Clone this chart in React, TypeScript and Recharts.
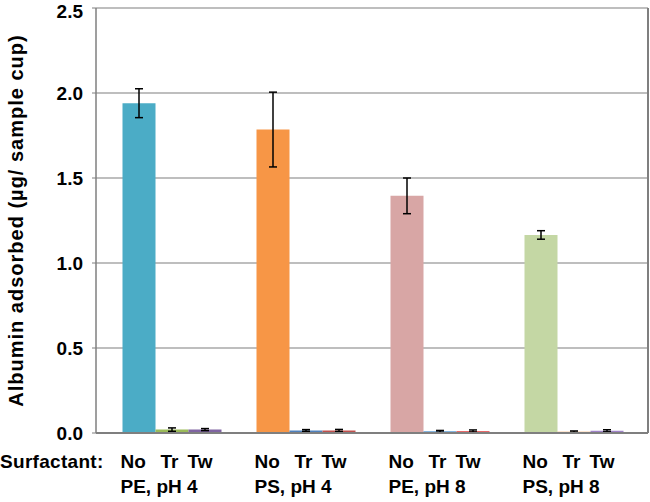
import React from 'react';
import {
  BarChart,
  Bar,
  XAxis,
  YAxis,
  CartesianGrid,
  ErrorBar,
  Cell,
  Label,
} from 'recharts';

const groups = ['PE, pH 4', 'PS, pH 4', 'PE, pH 8', 'PS, pH 8'];
const surfactants = ['No', 'Tr', 'Tw'];

const noValues = [1.94, 1.785, 1.395, 1.165];
const noErrors = [0.085, 0.22, 0.105, 0.025];
const trValues = [0.02, 0.015, 0.01, 0.008];
const trErrors = [0.01, 0.005, 0.005, 0.004];
const twValues = [0.02, 0.015, 0.012, 0.013];
const twErrors = [0.006, 0.006, 0.006, 0.006];

const noColors = ['#4bacc6', '#f79646', '#d8a6a5', '#c4d7a4'];
const trColors = ['#9bbb59', '#4f81bd', '#5b9bd5', '#f79646'];
const twColors = ['#8064a2', '#c0504d', '#e8696a', '#a083c9'];

const yTicks = [0, 0.5, 1.0, 1.5, 2.0, 2.5];

const data = groups.map((g, i) => ({
  group: g,
  No: noValues[i],
  noErr: noErrors[i],
  Tr: trValues[i],
  trErr: trErrors[i],
  Tw: twValues[i],
  twErr: twErrors[i],
}));

const FONT = '"Liberation Sans", Arial, Helvetica, sans-serif';

const GroupTick = (props: any) => {
  const { x, y, payload, index } = props;
  const s = x - 51;
  return (
    <g fontFamily={FONT} fontWeight="bold" fontSize={19} fill="#000">
      {index === 0 && (
        <text x={0} y={y + 35} textAnchor="start" letterSpacing={0.3}>
          Surfactant:
        </text>
      )}
      <text x={s} y={y + 35} textAnchor="start">{surfactants[0]}</text>
      <text x={s + 40} y={y + 35} textAnchor="start">{surfactants[1]}</text>
      <text x={s + 67} y={y + 35} textAnchor="start">{surfactants[2]}</text>
      <text x={s} y={y + 60} textAnchor="start">{payload.value}</text>
    </g>
  );
};

const App: React.FC = () => {
  return (
    <div style={{ position: 'absolute', left: 0, top: 0, width: 650, height: 502 }}>
      <BarChart
        width={650}
        height={502}
        data={data}
        margin={{ top: 8, right: 0, left: 0, bottom: 0 }}
        barGap={0}
        barSize={33}
      >
        <CartesianGrid vertical={false} stroke="#a8a8a8" strokeWidth={1.5} />
        <XAxis
          dataKey="group"
          height={69}
          padding={{ left: 8.5, right: 7.5 }}
          tickLine={false}
          tickSize={0}
          tickMargin={0}
          axisLine={{ stroke: '#7f7f7f', strokeWidth: 2 }}
          tick={<GroupTick />}
          interval={0}
        />
        <XAxis xAxisId="top" orientation="top" dataKey="group" height={0} tick={false} tickLine={false}
          axisLine={{ stroke: '#7f7f7f', strokeWidth: 2 }} />
        <YAxis
          width={96}
          domain={[0, 2.5]}
          ticks={yTicks}
          tickSize={4}
          tickMargin={9}
          tickFormatter={(v: number) => v.toFixed(1)}
          tick={{ fill: '#000', fontSize: 19, fontWeight: 'bold', fontFamily: FONT }}
          tickLine={{ stroke: '#7f7f7f' }}
          axisLine={{ stroke: '#7f7f7f', strokeWidth: 1.5 }}
        >
          <Label
            content={(p: any) => {
              const vb = p.viewBox;
              const cy = vb.y + vb.height / 2;
              return (
                <text
                  x={23}
                  y={cy}
                  transform={`rotate(-90, 23, ${cy})`}
                  textAnchor="middle"
                  fontFamily={FONT}
                  fontWeight="bold"
                  fontSize={20}
                  letterSpacing={1}
                  fill="#000"
                >
                  Albumin adsorbed (µg/ sample cup)
                </text>
              );
            }}
          />
        </YAxis>
        <YAxis yAxisId="right" orientation="right" width={2} domain={[0, 2.5]} tick={false} tickLine={false}
          axisLine={{ stroke: '#7f7f7f', strokeWidth: 2 }} />
        <Bar dataKey="No" isAnimationActive={false}>
          {data.map((d, i) => (
            <Cell key={d.group} fill={noColors[i]} />
          ))}
          <ErrorBar dataKey="noErr" width={4} stroke="#000" strokeWidth={1.5} />
        </Bar>
        <Bar dataKey="Tr" isAnimationActive={false}>
          {data.map((d, i) => (
            <Cell key={d.group} fill={trColors[i]} />
          ))}
          <ErrorBar dataKey="trErr" width={4} stroke="#000" strokeWidth={1.5} />
        </Bar>
        <Bar dataKey="Tw" isAnimationActive={false}>
          {data.map((d, i) => (
            <Cell key={d.group} fill={twColors[i]} />
          ))}
          <ErrorBar dataKey="twErr" width={4} stroke="#000" strokeWidth={1.5} />
        </Bar>
      </BarChart>
    </div>
  );
};

export default App;
